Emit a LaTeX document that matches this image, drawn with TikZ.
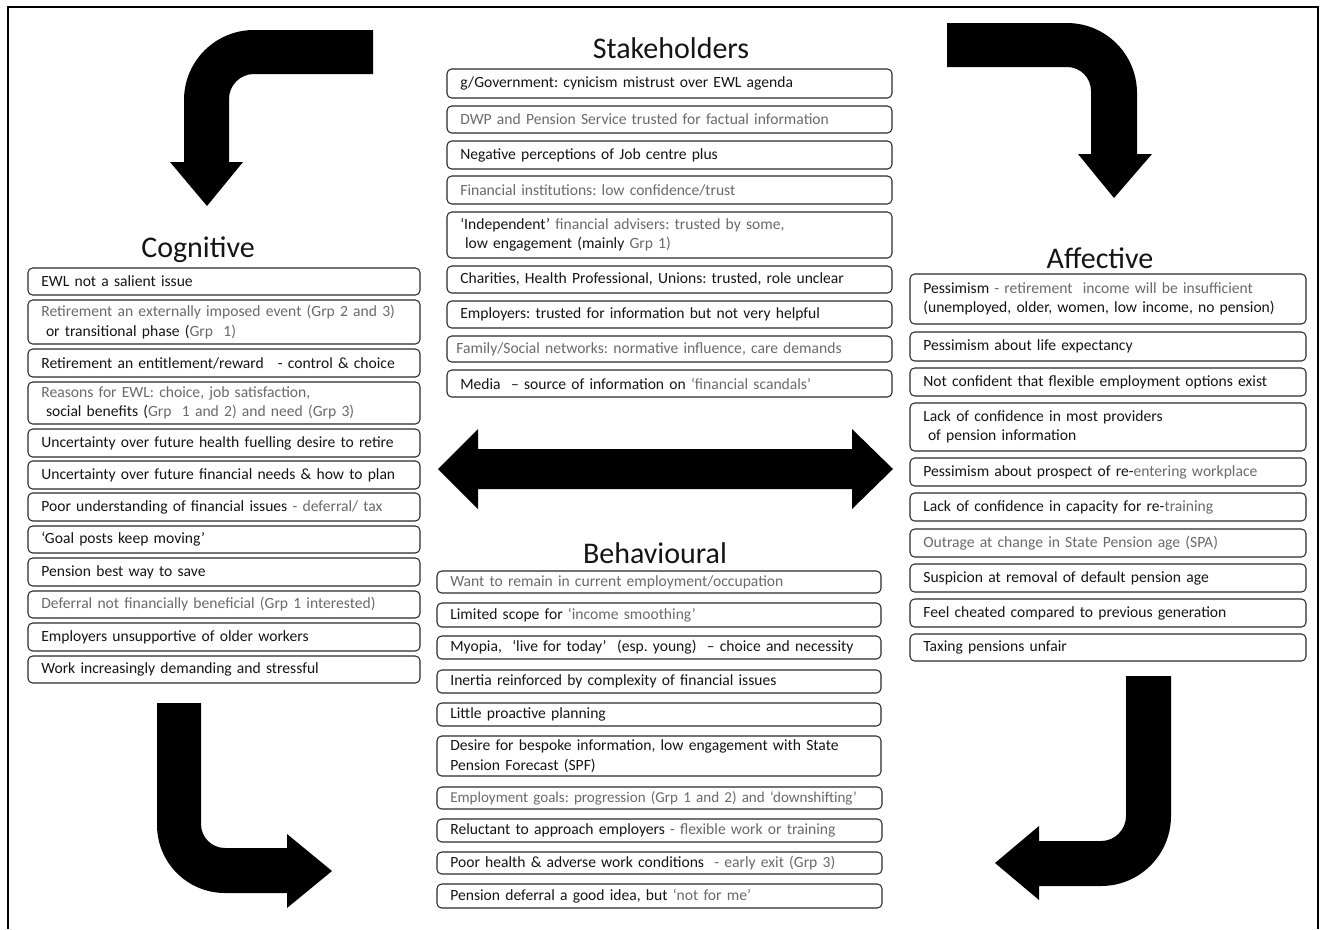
\documentclass[tikz,border=0pt]{standalone}
\usepackage{fontspec}
\setmainfont{Carlito}
\usepackage{xcolor}
\definecolor{txtblack}{HTML}{151515}
\definecolor{txtgrey}{HTML}{6A6A6A}
\definecolor{boxline}{HTML}{2A2A2A}
\newcommand\gy[1]{\textcolor{txtgrey}{#1}}
\newcommand\ind{\hspace*{0.3em}}
\newcommand\mybox[6]{%
  \pgfmathsetlengthmacro\bw{(#4-#2)*0.75pt}%
  \pgfmathsetlengthmacro\bh{(#5-#3)*0.75pt}%
  \pgfmathsetlengthmacro\tw{(#4-#2)*0.75pt-20pt}%
  \node[box,minimum width=\bw,minimum height=\bh,text width=\tw,anchor=north west] (#1) at (#2,#3) {#6};}
\tikzset{
  box/.style={draw=boxline,line width=0.8pt,rounded corners=3.5pt,inner xsep=10pt,inner ysep=1pt,
    outer sep=0pt,align=left,font=\fontsize{11.7}{14.5}\selectfont\frenchspacing,text=txtblack},
  title/.style={font=\fontsize{22.5}{26}\selectfont,text=txtblack,anchor=base,inner sep=0pt},
  bigarrow/.style={fill=black,draw=none}
}
\begin{document}
\begin{tikzpicture}[x=0.75pt,y=-0.75pt]
\useasboundingbox (0,0) rectangle (1324,929);
\fill[white] (0,0) rectangle (1324,929);
% frame
\draw[line width=1.5pt] (8,929) -- (8,7) -- (1318,7) -- (1318,929);

% titles
\node[title] (tstake) at (671,58) {Stakeholders};
\node[title] (tcog) at (198,257) {Cognitive};
\node[title] (taff) at (1100,268) {Affective};
\node[title] (tbeh) at (655,563) {Behavioural};

% big arrows
\fill[bigarrow] (373,30) -- (254,30) .. controls (215.3,30) and (184,61.3) .. (184,100)
  -- (184,162) -- (170,162) -- (207,206) -- (243,162) -- (229,162) -- (229,99)
  .. controls (229,85.2) and (240.2,74) .. (254,74) -- (373,74) -- cycle;
\fill[bigarrow] (947,23) -- (1067,23) .. controls (1105.7,23) and (1137,54.3) .. (1137,93)
  -- (1137,154) -- (1152,154) -- (1114,198) -- (1078,154) -- (1091,154) -- (1091,91)
  .. controls (1091,77.7) and (1080.3,67) .. (1067,67) -- (947,67) -- cycle;
\fill[bigarrow] (157,703) -- (157,825) .. controls (157,862.6) and (187.4,893) .. (225,893)
  -- (287,893) -- (287,908) -- (332,871) -- (287,834) -- (287,848) -- (225,848)
  .. controls (211.7,848) and (201,837.3) .. (201,824) -- (201,703) -- cycle;
\fill[bigarrow] (1126,676) -- (1171,676) -- (1171,816) .. controls (1171,854.7) and (1139.7,886) .. (1101,886)
  -- (1039,886) -- (1039,900) -- (995,863) -- (1039,826) -- (1039,841) -- (1101,841)
  .. controls (1114.8,841) and (1126,829.8) .. (1126,816) -- cycle;
\fill[bigarrow] (438,469) -- (478,429) -- (478,449) -- (852,449) -- (852,429) -- (893,469)
  -- (852,509) -- (852,489) -- (478,489) -- (478,509) -- cycle;

% Stakeholders
\mybox{s1}{447}{69}{892}{98}{g/Government: cynicism mistrust over EWL agenda}
\mybox{s2}{447}{106}{892}{133}{\gy{DWP and Pension Service trusted for factual information}}
\mybox{s3}{447}{141}{892}{169}{Negative perceptions of Job centre plus}
\mybox{s4}{447}{176}{892}{204}{\gy{Financial institutions: low confidence/trust}}
\mybox{s5}{447}{212}{892}{258}{‘Independent’ \gy{financial advisers: trusted by some,}\\\ind low engagement (mainly \gy{Grp 1)}}
\mybox{s6}{447}{266}{892}{293}{Charities, Health Professional, Unions: trusted, role unclear}
\mybox{s7}{447}{301}{892}{328}{Employers: trusted for information but not very helpful}
\mybox{s8}{447}{336}{892}{362}{\hspace*{-0.25em}\gy{Family/Social networks: normative influence, care demands}}
\mybox{s9}{447}{370}{892}{397}{Media\ \ – source of information on \gy{‘financial scandals’}}

% Cognitive
\mybox{c1}{28}{268}{420}{295}{EWL not a salient issue}
\mybox{c2}{28}{300}{420}{344}{\gy{Retirement an externally imposed event (Grp 2 and 3)}\\\ind or transitional phase (\gy{Grp\ \ 1)}}
\mybox{c3}{28}{349}{420}{377}{Retirement an entitlement/reward\hspace{0.9em}- control \& choice}
\mybox{c4}{28}{382}{420}{424}{\gy{Reasons for EWL: choice, job satisfaction,}\\\ind social benefits (\gy{Grp\ \ 1 and 2) and need (Grp 3)}}
\mybox{c5}{28}{429}{420}{457}{Uncertainty over future health fuelling desire to retire}
\mybox{c6}{28}{461}{420}{489}{Uncertainty over future financial needs \& how to plan}
\mybox{c7}{28}{493}{420}{521}{Poor understanding of financial issues \gy{- deferral/ tax}}
\mybox{c8}{28}{526}{420}{553}{‘Goal posts keep moving’}
\mybox{c9}{28}{558}{420}{586}{Pension best way to save}
\mybox{c10}{28}{591}{420}{618}{\gy{Deferral not financially beneficial (Grp 1 interested)}}
\mybox{c11}{28}{623}{420}{651}{Employers unsupportive of older workers}
\mybox{c12}{28}{656}{420}{683}{Work increasingly demanding and stressful}

% Affective
\mybox{a1}{910}{274}{1306}{324}{Pessimism \gy{- retirement\ \ income will be insufficient}\\(unemployed, older, women, low income, no pension)}
\mybox{a2}{910}{332}{1306}{361}{Pessimism about life expectancy}
\mybox{a3}{910}{368}{1306}{396}{Not confident that flexible employment options exist}
\mybox{a4}{910}{403}{1306}{451}{Lack of confidence in most providers\\\ind of pension information}
\mybox{a5}{910}{458}{1306}{486}{Pessimism about prospect of re-\gy{entering workplace}}
\mybox{a6}{910}{493}{1306}{521}{Lack of confidence in capacity for re-\gy{training}}
\mybox{a7}{910}{529}{1306}{557}{\gy{Outrage at change in State Pension age (SPA)}}
\mybox{a8}{910}{564}{1306}{592}{Suspicion at removal of default pension age}
\mybox{a9}{910}{599}{1306}{627}{Feel cheated compared to previous generation}
\mybox{a10}{910}{634}{1306}{661}{Taxing pensions unfair}

% Behavioural
\mybox{b1}{437}{571}{881}{593}{\gy{Want to remain in current employment/occupation}}
\mybox{b2}{437}{603}{881}{627}{Limited scope for \gy{‘income smoothing’}}
\mybox{b3}{437}{636}{881}{659}{Myopia,\ \ ‘live for today’\ \ (esp. young)\ \ – choice and necessity}
\mybox{b4}{437}{670}{881}{693}{Inertia reinforced by complexity of financial issues}
\mybox{b5}{437}{703}{881}{726}{Little proactive planning}
\mybox{b6}{437}{736}{881}{776}{Desire for bespoke information, low engagement with State\\Pension Forecast (SPF)}
\mybox{b7}{437}{787}{882}{809}{\mbox{\fontsize{11.3}{14}\selectfont\gy{Employment goals: progression (Grp 1 and 2) and ‘downshifting’}}}
\mybox{b8}{437}{819}{882}{842}{Reluctant to approach employers \gy{- flexible work or training}}
\mybox{b9}{437}{852}{882}{874}{Poor health \& adverse work conditions\ \ \gy{- early exit (Grp 3)}}
\mybox{b10}{437}{884}{882}{908}{Pension deferral a good idea, but \gy{‘not for me’}}
\end{tikzpicture}
\end{document}
